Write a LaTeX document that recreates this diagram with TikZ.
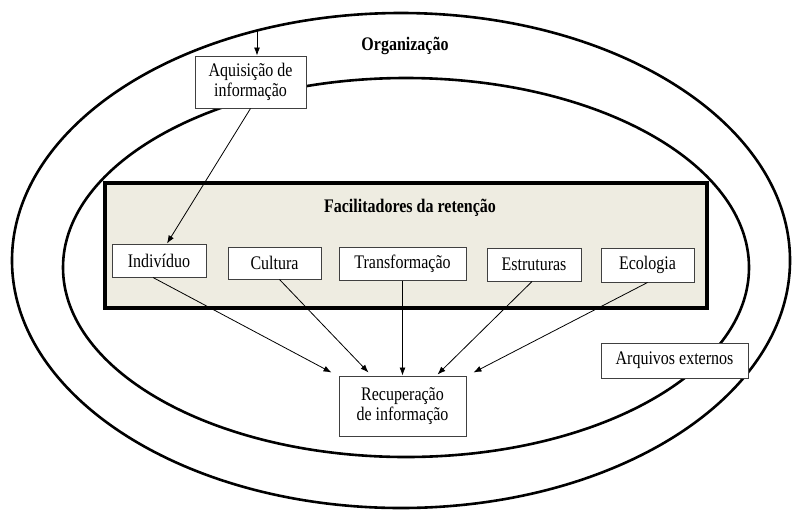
\documentclass[tikz,border=0pt]{standalone}
\usepackage{fontspec}
\usepackage{graphicx}
\setmainfont{Liberation Serif}
\usetikzlibrary{arrows.meta,calc}
\definecolor{facfill}{RGB}{238,236,225}
\newcommand{\tallt}[1]{\scalebox{1}[1.2]{#1}}
\begin{document}
\begin{tikzpicture}[x=1pt,y=-1pt,
  box/.style={draw=black!75,line width=1pt,fill=white,inner sep=0pt,
    font=\fontsize{16}{20}\selectfont,align=center},
  ring/.style={line width=2.6pt},
  conn/.style={line width=0.8pt,-{Latex[length=8pt,width=6pt]}},
  title/.style={font=\fontsize{16}{18}\selectfont\bfseries}]
\useasboundingbox (0,0) rectangle (794,509);
% ellipses
\draw[ring] (401,260.5) ellipse [x radius=389, y radius=247.5];
\draw[ring] (406,267.5) ellipse [x radius=343, y radius=189.5];
% facilitators box
\node[draw=black,line width=4pt,fill=facfill,minimum width=602pt,minimum height=125pt,inner sep=0pt] (fac) at (406,245.5) {};
\node[title] (orgt) at (405,46) {\tallt{Organização}};
\node[title] (fact) at (410,208) {\tallt{Facilitadores da retenção}};
% boxes
\node[box,minimum width=111pt,minimum height=52pt] (aq) at (250.5,82) {\tallt{Aquisição de}\\\tallt{informação}};
\node[box,minimum width=94pt,minimum height=33pt] (ind) at (159,260.5) {\tallt{Indivíduo}};
\node[box,minimum width=93pt,minimum height=32pt] (cul) at (274.5,263) {\tallt{Cultura}};
\node[box,minimum width=127pt,minimum height=33pt] (tra) at (402.5,263.5) {\tallt{Transformação}};
\node[box,minimum width=94pt,minimum height=33pt] (est) at (534,264.5) {\tallt{Estruturas}};
\node[box,minimum width=93pt,minimum height=34pt] (eco) at (647.5,265) {\tallt{Ecologia}};
\node[box,minimum width=127pt,minimum height=60pt] (rec) at (402.5,406) {\tallt{Recuperação}\\\tallt{de informação}};
\node[box,minimum width=147pt,minimum height=35pt] (arq) at (674.5,360.5) {\tallt{Arquivos externos}};
% connectors
\coordinate (in) at (257,30.6);
\draw[conn] (in) -- (in |- aq.north);
\draw[conn] (aq.south) -- ([xshift=8pt]ind.north);
\coordinate (r1) at ($(rec.north west)+(-7,-3)$);
\coordinate (r2) at ($(rec.north west)+(30,-3)$);
\coordinate (r4) at ($(rec.north west)+(99,-1)$);
\coordinate (r5) at ($(rec.north east)+(7,-3)$);
\draw[conn] ([xshift=-6pt]ind.south) -- (r1);
\draw[conn] ([xshift=5pt]cul.south) -- (r2);
\draw[conn] (tra.south) -- (rec.north);
\draw[conn] ([xshift=-2pt]est.south) -- (r4);
\draw[conn] (eco.south) -- (r5);
\end{tikzpicture}
\end{document}
